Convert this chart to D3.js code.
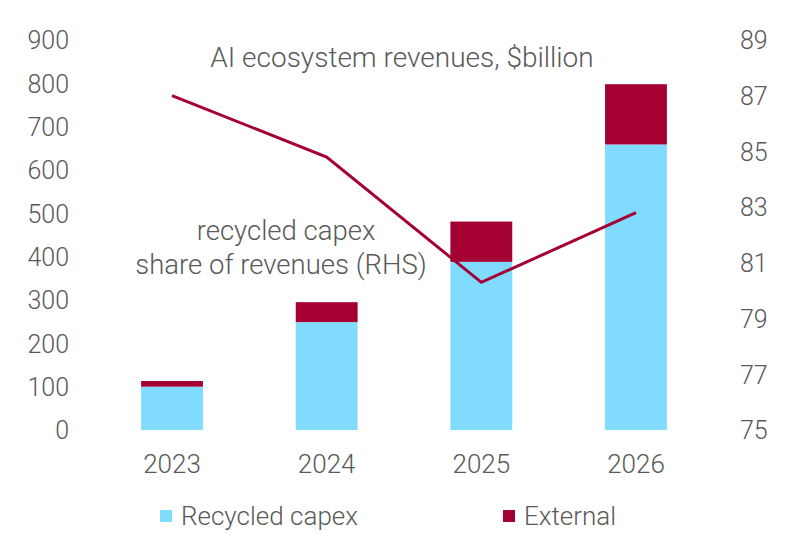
<!DOCTYPE html>
<html><head><meta charset="utf-8">
<script src="https://cdn.jsdelivr.net/npm/d3@7"></script>
<style>body{margin:0;background:#fff}svg text{font-family:Roboto,"Noto Sans",sans-serif;fill:#595959;font-weight:300}</style>
</head><body><svg id="c" width="798" height="547"></svg>
<script>
const years = ["2023","2024","2025","2026"];
const recycled = [100, 249, 388, 659];
const external = [13, 46, 93, 139];
const sharePct = [87.0, 84.8, 80.3, 82.8];
const leftTicks = [0,100,200,300,400,500,600,700,800,900];
const rightTicks = [75,77,79,81,83,85,87,89];
const blue = "#80DBFF", red = "#A50034";

const svg = d3.select("#c");
const x = d3.scaleBand().domain(years).range([94.7, 713.3]).paddingInner(0.6).paddingOuter(0.3);
const y = d3.scaleLinear().domain([0,900]).range([430,40]);
const y2 = d3.scaleLinear().domain([75,89]).range([430,40]);

// left axis
const la = svg.append("g").attr("transform","translate(69,0)")
  .call(d3.axisLeft(y).tickValues(leftTicks).tickSize(0).tickPadding(0));
la.select(".domain").remove();
la.selectAll("text").style("font-size","25px").attr("dy","0.35em");

// right axis
const ra = svg.append("g").attr("transform","translate(740,0)")
  .call(d3.axisRight(y2).tickValues(rightTicks).tickSize(0).tickPadding(0));
ra.select(".domain").remove();
ra.selectAll("text").style("font-size","25px").attr("dy","0.35em");

// x axis
const xa = svg.append("g").attr("transform","translate(0,448)")
  .call(d3.axisBottom(x).tickSize(0).tickPadding(0));
xa.select(".domain").remove();
xa.selectAll("text").style("font-size","26px").attr("dy","0.98em");

// bars
const g = svg.append("g");
g.selectAll(".rb").data(years).join("rect")
  .attr("x", d=>x(d)).attr("width", x.bandwidth())
  .attr("y", (d,i)=>y(recycled[i])).attr("height",(d,i)=>y(0)-y(recycled[i]))
  .attr("fill", blue);
g.selectAll(".eb").data(years).join("rect")
  .attr("x", d=>x(d)).attr("width", x.bandwidth())
  .attr("y", (d,i)=>y(recycled[i]+external[i])).attr("height",(d,i)=>y(recycled[i])-y(recycled[i]+external[i]))
  .attr("fill", red);

// line
const line = d3.line().x((d,i)=>x(years[i])+x.bandwidth()/2).y(d=>y2(d));
svg.append("path").datum(sharePct).attr("d", line)
  .attr("fill","none").attr("stroke", red).attr("stroke-width",3).attr("stroke-linejoin","miter");

// annotations
svg.append("text").attr("x",402).attr("y",67).attr("text-anchor","middle").style("font-size","28px").text("AI ecosystem revenues, $billion");
svg.append("text").attr("x",286).attr("y",240).attr("text-anchor","middle").style("font-size","27.5px").text("recycled capex");
svg.append("text").attr("x",281).attr("y",274).attr("text-anchor","middle").style("font-size","27.5px").text("share of revenues (RHS)");

// legend
const legend = [{n:"Recycled capex",c:blue,x:160},{n:"External",c:red,x:503}];
const lg = svg.selectAll(".lg").data(legend).join("g").attr("transform",d=>`translate(${d.x},510)`);
lg.append("rect").attr("width",12).attr("height",12).attr("fill",d=>d.c);
lg.append("text").attr("x",21).attr("y",15).style("font-size","26px").text(d=>d.n);
</script></body></html>
